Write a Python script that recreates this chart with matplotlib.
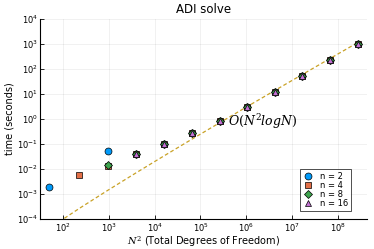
import numpy as np
import matplotlib
matplotlib.use("Agg")
import matplotlib.pyplot as plt
from matplotlib.ticker import NullLocator, LogFormatterMathtext

# Data
N_vals = np.array([7, 15, 31, 63, 127, 255, 511, 1023, 2047, 4095, 8191, 16383])
large_N = [63, 127, 255, 511, 1023, 2047, 4095, 8191, 16383]
large_t = [0.039, 0.098, 0.27, 0.83, 3.0, 11.7, 52, 222, 1030]

n2_N = [7, 31] + large_N
n2_t = [0.002, 0.052] + large_t
n4_N = [15, 31] + large_N
n4_t = [0.0059, 0.013] + large_t
n8_N = [31] + large_N
n8_t = [0.015] + large_t
n16_N = large_N
n16_t = large_t

series = [
    ("n = 2", n2_N, n2_t, "o", "#009AFA"),
    ("n = 4", n4_N, n4_t, "s", "#E36F47"),
    ("n = 8", n8_N, n8_t, "D", "#3EA44E"),
    ("n = 16", n16_N, n16_t, "^", "#C271D2"),
]
ref_const = 4.34e-7

fig = plt.figure(figsize=(3.74, 2.49), dpi=100)
ax = fig.add_axes([0.107, 0.120, 0.874, 0.804])

Nl = N_vals.astype(float)
ax.plot(Nl**2, ref_const * Nl**2 * np.log(Nl), ls=(0, (3, 2)), color="#C9A227",
        lw=0.9, zorder=2)

for lab, Ns, ts, mk, col in series:
    Ns = np.array(Ns, dtype=float)
    ms = 5.0 if mk != "D" else 4.0
    ax.plot(Ns**2, ts, ls="none", marker=mk, ms=ms, color=col, mec="black",
            mew=0.5, label=lab, zorder=3)

ax.set_xscale("log")
ax.set_yscale("log")
ax.set_xlim(10**1.5, 10**8.63)
ax.set_ylim(1e-4, 1e4)
ax.set_xticks([10.0**k for k in range(2, 9)])
ax.set_yticks([10.0**k for k in range(-4, 5)])
ax.xaxis.set_minor_locator(NullLocator())
ax.yaxis.set_minor_locator(NullLocator())
ax.xaxis.set_major_formatter(LogFormatterMathtext())
ax.yaxis.set_major_formatter(LogFormatterMathtext())
ax.tick_params(direction="in", length=3, width=0.6, labelsize=6, pad=1.5)
ax.grid(True, color="#000000", alpha=0.08, lw=0.5)
for s in ["top", "right"]:
    ax.spines[s].set_visible(False)
for s in ["left", "bottom"]:
    ax.spines[s].set_linewidth(0.8)

ax.set_title("ADI solve", fontsize=8.5, pad=4)
ax.set_xlabel("$N^2$ (Total Degrees of Freedom)", fontsize=7, labelpad=0.5,
              math_fontfamily="dejavuserif")
ax.set_ylabel("time (seconds)", fontsize=7, labelpad=2)
ax.text(10**6.35, 10**-0.12, r"$O(N^2 log N)$", fontsize=9, ha="center",
        va="center", math_fontfamily="dejavuserif")

leg = ax.legend(loc="lower right", bbox_to_anchor=(0.965, 0.02), fontsize=6,
                frameon=True, fancybox=False, edgecolor="black",
                handletextpad=0.8, labelspacing=0.0, borderpad=0.35,
                handlelength=1.3)
leg.get_frame().set_linewidth(0.6)

fig.savefig("out.png", dpi=100)
